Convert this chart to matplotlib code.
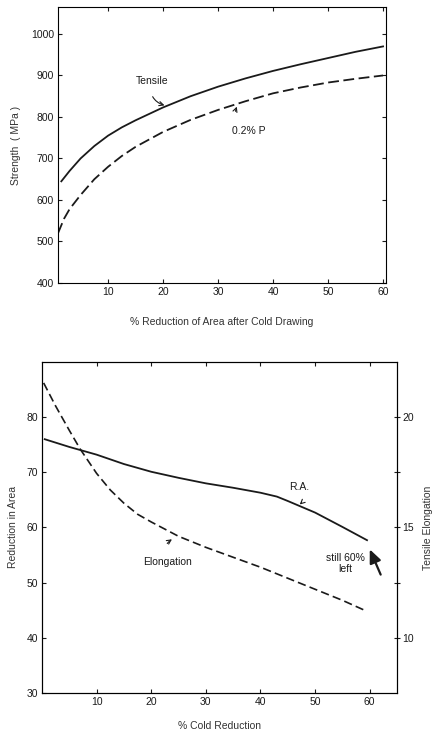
import matplotlib.pyplot as plt

plt.rcParams['font.family'] = ['Liberation Sans', 'DejaVu Sans']

# --- top panel: strength vs % reduction of area ---
tensile_x = [1.5, 3, 5, 7.5, 10, 12.5, 15, 20, 25, 30, 35, 40, 45, 50, 55, 60]
tensile_y = [645, 670, 700, 730, 755, 775, 792, 823, 850, 873, 893, 911, 927, 942, 957, 970]
proof_x = [0.9, 2, 3, 5, 7.5, 10, 12.5, 15, 20, 25, 30, 35, 40, 45, 50, 55, 60]
proof_y = [520, 555, 578, 612, 650, 680, 706, 728, 764, 793, 817, 838, 857, 871, 883, 892, 900]

# --- bottom panel: ductility vs % cold reduction ---
ra_x = [0.5, 5, 10, 15, 20, 25, 30, 35, 40, 43, 45, 50, 55, 59.5]
ra_y = [76.0, 74.6, 73.2, 71.5, 70.1, 69.0, 68.0, 67.2, 66.3, 65.6, 64.8, 62.7, 60.1, 57.7]
elong_x = [0.3, 2.5, 5, 7, 10, 12.5, 15, 17.5, 20, 25, 30, 35, 40, 45, 50, 55, 59.5]
elong_y = [21.55, 20.5, 19.4, 18.55, 17.45, 16.7, 16.1, 15.6, 15.25, 14.6, 14.1, 13.65, 13.2, 12.7, 12.2, 11.7, 11.2]

ink = '#1a1a1a'

fig = plt.figure(figsize=(4.33, 7.36), dpi=100)

ax1 = fig.add_axes([0.134, 0.6155, 0.757, 0.375])
ax1.plot(tensile_x, tensile_y, '-', color=ink, lw=1.3)
ax1.plot(proof_x, proof_y, '--', color=ink, lw=1.3, dashes=(6, 2.5))
ax1.set_xlim(0.9, 60.5)
ax1.set_ylim(400, 1065)
ax1.set_xticks([10, 20, 30, 40, 50, 60])
ax1.set_yticks([400, 500, 600, 700, 800, 900, 1000])
ax1.tick_params(direction='in', top=True, right=True, labelsize=7.5, length=3, pad=3, colors=ink)
ax1.set_ylabel('Strength  ( MPa )', fontsize=7.5, color='#333333', labelpad=7)
ax1.set_xlabel('% Reduction of Area after Cold Drawing', fontsize=7.5, color='#333333', labelpad=14)
ax1.annotate('Tensile', xy=(20.5, 827), xytext=(18, 880), fontsize=7.5, ha='center', color=ink,
             arrowprops=dict(arrowstyle='->', color=ink, lw=0.8, connectionstyle='arc3,rad=0.5',
                             shrinkA=6, shrinkB=1))
ax1.annotate('0.2% P', xy=(33.5, 828), xytext=(35.5, 758), fontsize=7.5, ha='center', color=ink,
             arrowprops=dict(arrowstyle='->', color=ink, lw=0.8, connectionstyle='arc3,rad=-0.5',
                             shrinkA=9, shrinkB=1))

ax2 = fig.add_axes([0.097, 0.0584, 0.820, 0.4498])
ax2.plot(ra_x, ra_y, '-', color=ink, lw=1.3)
ax2.set_xlim(0, 65)
ax2.set_ylim(30, 90)
ax2.set_xticks([10, 20, 30, 40, 50, 60])
ax2.set_yticks([30, 40, 50, 60, 70, 80])
ax2.tick_params(direction='in', top=True, labelsize=7.5, length=3, pad=3, colors=ink)
ax2.set_ylabel('Reduction in Area', fontsize=7.5, color='#333333', labelpad=6)
ax2.set_xlabel('% Cold Reduction', fontsize=7.5, color='#333333', labelpad=10)

ax3 = ax2.twinx()
ax3.plot(elong_x, elong_y, '--', color=ink, lw=1.2, dashes=(5, 2.5))
ax3.set_ylim(7.5, 22.5)
ax3.set_yticks([10, 12.5, 15, 17.5, 20])
ax3.set_yticklabels(['10', '', '15', '', '20'])
ax3.tick_params(direction='inout', labelsize=7.5, length=4, pad=2, colors=ink)
ax3.set_ylabel('Tensile Elongation', fontsize=7.5, color='#333333', labelpad=6)

ax2.annotate('R.A.', xy=(47, 64), xytext=(47, 66.8), fontsize=7.5, ha='center', color=ink,
             arrowprops=dict(arrowstyle='->', color=ink, lw=0.8, connectionstyle='arc3,rad=-0.6',
                             shrinkA=6, shrinkB=1))
ax3.annotate('Elongation', xy=(24, 14.5), xytext=(23, 13.3), fontsize=7.5, ha='center', color=ink,
             arrowprops=dict(arrowstyle='->', color=ink, lw=0.8, connectionstyle='arc3,rad=-0.5',
                             shrinkA=8, shrinkB=1))
ax2.text(55.5, 53.5, 'still 60%\nleft', fontsize=7.5, ha='center', va='center', color=ink,
         linespacing=1.1)
ax2.annotate('', xy=(59.8, 56.5), xytext=(62.2, 51),
             arrowprops=dict(arrowstyle='-|>,head_length=0.8,head_width=0.35', color=ink, lw=1.6))

fig.savefig('out.png', dpi=100)
